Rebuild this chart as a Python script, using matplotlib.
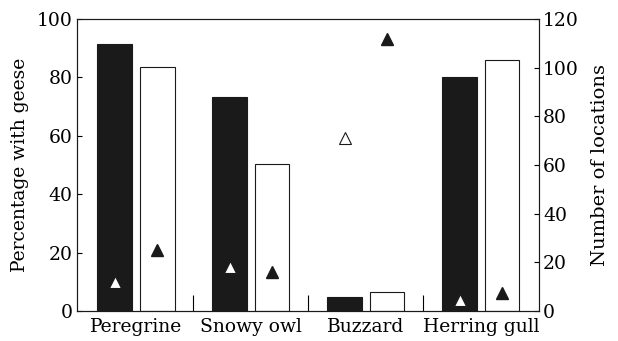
import matplotlib
matplotlib.use("Agg")
import matplotlib.pyplot as plt
import numpy as np

# ── Data ─────────────────────────────────────────────────────────────
species = ["Peregrine", "Snowy owl", "Buzzard", "Herring gull"]
pct_black = [91.4, 73.4, 4.7, 80.0]      # left axis, filled bars
pct_white = [83.7, 50.2, 6.4, 86.0]      # left axis, open bars
loc_open = [12, 18, 71, 4.5]             # right axis, open triangles (on black bars)
loc_filled = [25, 16, 112, 7.4]          # right axis, filled triangles (on white bars)

plt.rcParams["font.family"] = ["DejaVu Serif"]
plt.rcParams["font.size"] = 13.5

fig = plt.figure(figsize=(6.18, 3.41), dpi=100)
ax = fig.add_axes([0.1246, 0.088, 0.7474, 0.856])

x = np.arange(len(species))
w = 0.304
off = 0.183

ax.bar(x - off, pct_black, w, color="#1a1a1a", edgecolor="#1a1a1a", linewidth=0.8)
ax.bar(x + off, pct_white, w, color="white", edgecolor="#1a1a1a", linewidth=0.8)

ax.set_xlim(-0.513, 3.504)
ax.set_ylim(0, 100)
ax.set_yticks(range(0, 101, 20))
ax.set_xticks(x)
ax.set_xticklabels(species)
ax.set_xticks([0.5, 1.5, 2.5], minor=True)
ax.tick_params(axis="x", which="major", length=0, pad=5)
ax.tick_params(axis="x", which="minor", direction="in", length=11.5, width=0.8)
ax.tick_params(axis="y", direction="in", length=3.8, width=0.8, pad=3)
ax.set_ylabel("Percentage with geese", fontsize=13.5, labelpad=6)

ax2 = ax.twinx()
ax2.set_ylim(0, 120)
ax2.set_yticks(range(0, 121, 20))
ax2.tick_params(axis="y", direction="in", length=3.8, width=0.8, pad=3)
ax2.plot(x - off, loc_open, linestyle="none", marker="^", markersize=8,
         markerfacecolor="white", markeredgecolor="#1a1a1a", markeredgewidth=0.8)
ax2.plot(x + off, loc_filled, linestyle="none", marker="^", markersize=8,
         markerfacecolor="#1a1a1a", markeredgecolor="#1a1a1a")
ax2.set_ylabel("Number of locations", fontsize=14, labelpad=9)

for a in (ax, ax2):
    for s in a.spines.values():
        s.set_linewidth(0.8)
        s.set_color("#1a1a1a")

fig.savefig("out.png", dpi=100)
